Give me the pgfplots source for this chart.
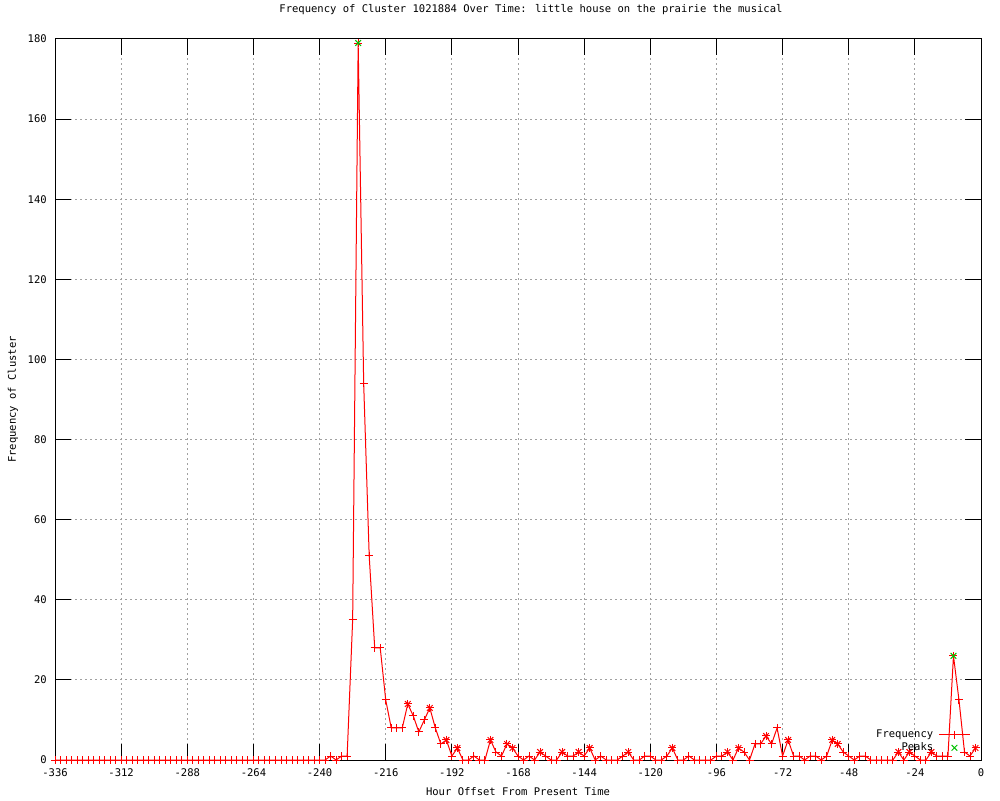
\documentclass[border=0pt]{standalone}
\usepackage{fontspec}
\setmainfont{DejaVu Sans Mono}
\usepackage{pgfplots}
\pgfplotsset{compat=1.18}
\definecolor{gpred}{rgb}{1,0,0}
\definecolor{gpgreen}{RGB}{0,192,0}
\definecolor{gpgrid}{RGB}{160,160,160}

\begin{document}
\begin{tikzpicture}[font=\fontsize{7.9}{9}\selectfont]
\begin{axis}[
    width=694.5pt, height=540.75pt, scale only axis,
    xmin=-336, xmax=0, ymin=0, ymax=180,
    xtick={-336,-312,...,0},
    ytick={0,20,...,180},
    /pgf/number format/assume math mode=true,
    tick align=inside,
    major tick length=12pt,
    tick style={black, line width=0.75pt},
    axis line style={line width=0.75pt},
    grid=major,
    grid style={gpgrid, line width=0.75pt, dash pattern=on 1.5pt off 2.25pt},
    xticklabel style={anchor=center, inner sep=0pt, yshift=-9.75pt},
    yticklabel style={anchor=east, inner sep=0pt, xshift=-6pt},
    title={Frequency of Cluster 1021884 Over Time: little house on the prairie the musical},
    title style={at={(axis description cs:0.514,1.0291)}, anchor=center, inner sep=0pt},
    xlabel={Hour Offset From Present Time},
    xlabel style={at={(axis description cs:0.5,-0.0444)}, anchor=center, inner sep=0pt},
    ylabel={Frequency of Cluster},
    ylabel style={at={(axis description cs:-0.0454,0.5)}, anchor=center, inner sep=0pt},
    legend style={draw=none, fill=none, at={(axis description cs:0.993,0.046)}, anchor=north east,
        nodes={inner sep=0pt}, row sep=2.5pt, column sep=4pt},
    legend cell align=right,
    legend plot pos=right,
    legend image code/.code={\draw[mark repeat=2,mark phase=2,#1] plot coordinates {(0pt,0pt)(11.5pt,0pt)(23pt,0pt)};},
]

\addplot[gpred, line width=0.75pt, mark=+, mark size=3pt, mark options={line width=0.75pt}]
    coordinates {
    (-336,0)(-334,0)(-332,0)(-330,0)(-328,0)(-326,0)(-324,0)(-322,0)(-320,0)(-318,0)
    (-316,0)(-314,0)(-312,0)(-310,0)(-308,0)(-306,0)(-304,0)(-302,0)(-300,0)(-298,0)
    (-296,0)(-294,0)(-292,0)(-290,0)(-288,0)(-286,0)(-284,0)(-282,0)(-280,0)(-278,0)
    (-276,0)(-274,0)(-272,0)(-270,0)(-268,0)(-266,0)(-264,0)(-262,0)(-260,0)(-258,0)
    (-256,0)(-254,0)(-252,0)(-250,0)(-248,0)(-246,0)(-244,0)(-242,0)(-240,0)(-238,0)
    (-236,1)(-234,0)(-232,1)(-230,1)(-228,35)(-226,179)(-224,94)(-222,51)(-220,28)(-218,28)
    (-216,15)(-214,8)(-212,8)(-210,8)(-208,14)(-206,11)(-204,7)(-202,10)(-200,13)(-198,8)
    (-196,4)(-194,5)(-192,1)(-190,3)(-188,0)(-186,0)(-184,1)(-182,0)(-180,0)(-178,5)
    (-176,2)(-174,1)(-172,4)(-170,3)(-168,1)(-166,0)(-164,1)(-162,0)(-160,2)(-158,1)
    (-156,0)(-154,0)(-152,2)(-150,1)(-148,1)(-146,2)(-144,1)(-142,3)(-140,0)(-138,1)
    (-136,0)(-134,0)(-132,0)(-130,1)(-128,2)(-126,0)(-124,0)(-122,1)(-120,1)(-118,0)
    (-116,0)(-114,1)(-112,3)(-110,0)(-108,0)(-106,1)(-104,0)(-102,0)(-100,0)(-98,0)
    (-96,1)(-94,1)(-92,2)(-90,0)(-88,3)(-86,2)(-84,0)(-82,4)(-80,4)(-78,6)
    (-76,4)(-74,8)(-72,1)(-70,5)(-68,1)(-66,1)(-64,0)(-62,1)(-60,1)(-58,0)
    (-56,1)(-54,5)(-52,4)(-50,2)(-48,1)(-46,0)(-44,1)(-42,1)(-40,0)(-38,0)
    (-36,0)(-34,0)(-32,0)(-30,2)(-28,0)(-26,2)(-24,1)(-22,0)(-20,0)(-18,2)
    (-16,1)(-14,1)(-12,1)(-10,26)(-8,15)(-6,2)(-4,1)(-2,3)
    };
\addlegendentry{Frequency}

% local maxima, drawn as red crosses over the + marks
\addplot[gpred, only marks, mark=x, mark size=3pt, mark options={line width=0.75pt}, forget plot]
    coordinates {
    (-208,14)(-200,13)(-194,5)(-190,3)(-178,5)(-172,4)(-170,3)(-160,2)(-152,2)(-146,2)
    (-142,3)(-128,2)(-112,3)(-92,2)(-88,3)(-78,6)(-70,5)(-54,5)(-52,4)(-30,2)
    (-26,2)(-18,2)(-2,3)
    };

\addplot[gpgreen, only marks, mark=x, mark size=3pt, mark options={line width=0.75pt}]
    coordinates {(-226,179)(-10,26)};
\addlegendentry{Peaks}

\coordinate (bl) at (axis description cs:-0.0594,-0.0555);
\coordinate (tr) at (axis description cs:1.0205,1.0541);
\end{axis}
\pgfresetboundingbox
\useasboundingbox (bl) rectangle (tr);
\end{tikzpicture}
\end{document}
